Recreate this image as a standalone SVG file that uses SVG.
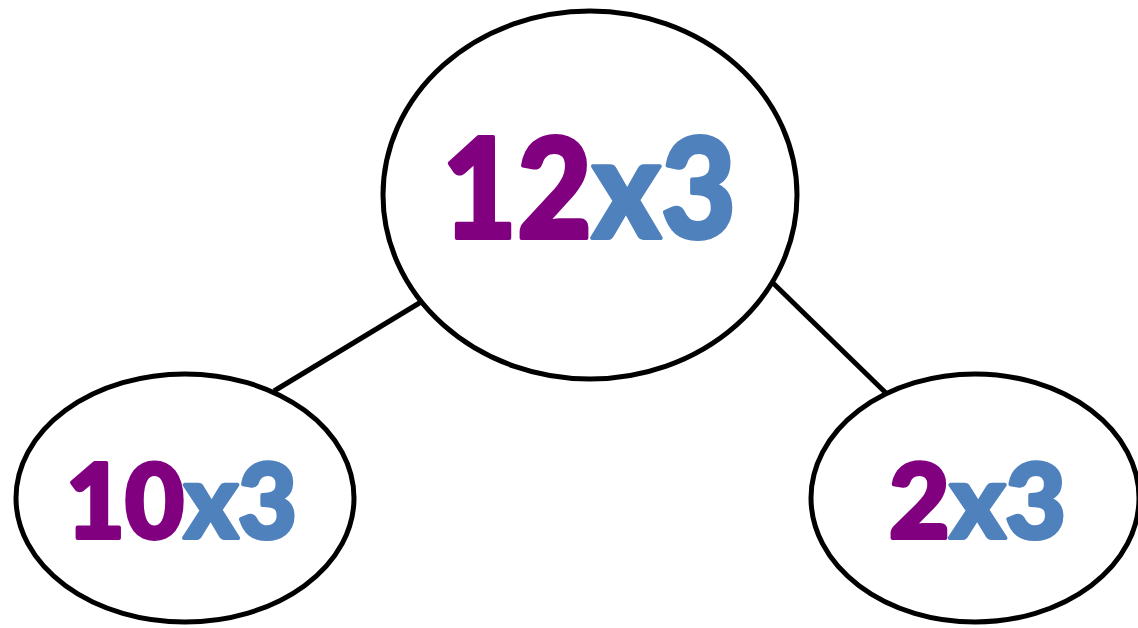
<svg xmlns="http://www.w3.org/2000/svg" width="1138" height="628" viewBox="0 0 1138 628">
<style>
.node{fill:#fff;stroke:#000;stroke-width:5}
.edge{stroke:#000;stroke-width:5;fill:none}
.lbl{font-family:"Lato","Open Sans","Liberation Sans",sans-serif;font-weight:900;stroke-width:4;stroke-linejoin:round}
.p{fill:#800080;stroke:#800080}
.b{fill:#4F81BD;stroke:#4F81BD}
</style>
<rect width="1138" height="628" fill="#fff"/>
<g id="connectors">
<line class="edge" x1="274" y1="391" x2="421" y2="302"/>
<line class="edge" x1="773" y1="283" x2="889" y2="396"/>
</g>
<g id="node-12x3">
<ellipse class="node" cx="590" cy="195" rx="207" ry="184"/>
<text class="lbl" x="442" y="238" font-size="140" textLength="294" lengthAdjust="spacingAndGlyphs"><tspan class="p">12</tspan><tspan class="b">x3</tspan></text>
</g>
<g id="node-10x3">
<ellipse class="node" cx="185" cy="498" rx="169" ry="124"/>
<text class="lbl" x="66" y="538" font-size="103" textLength="231" lengthAdjust="spacingAndGlyphs"><tspan class="p">10</tspan><tspan class="b">x3</tspan></text>
</g>
<g id="node-2x3">
<ellipse class="node" cx="975" cy="498" rx="164" ry="124"/>
<text class="lbl" x="889" y="538" font-size="103" textLength="177" lengthAdjust="spacingAndGlyphs"><tspan class="p">2</tspan><tspan class="b">x3</tspan></text>
</g>
</svg>
